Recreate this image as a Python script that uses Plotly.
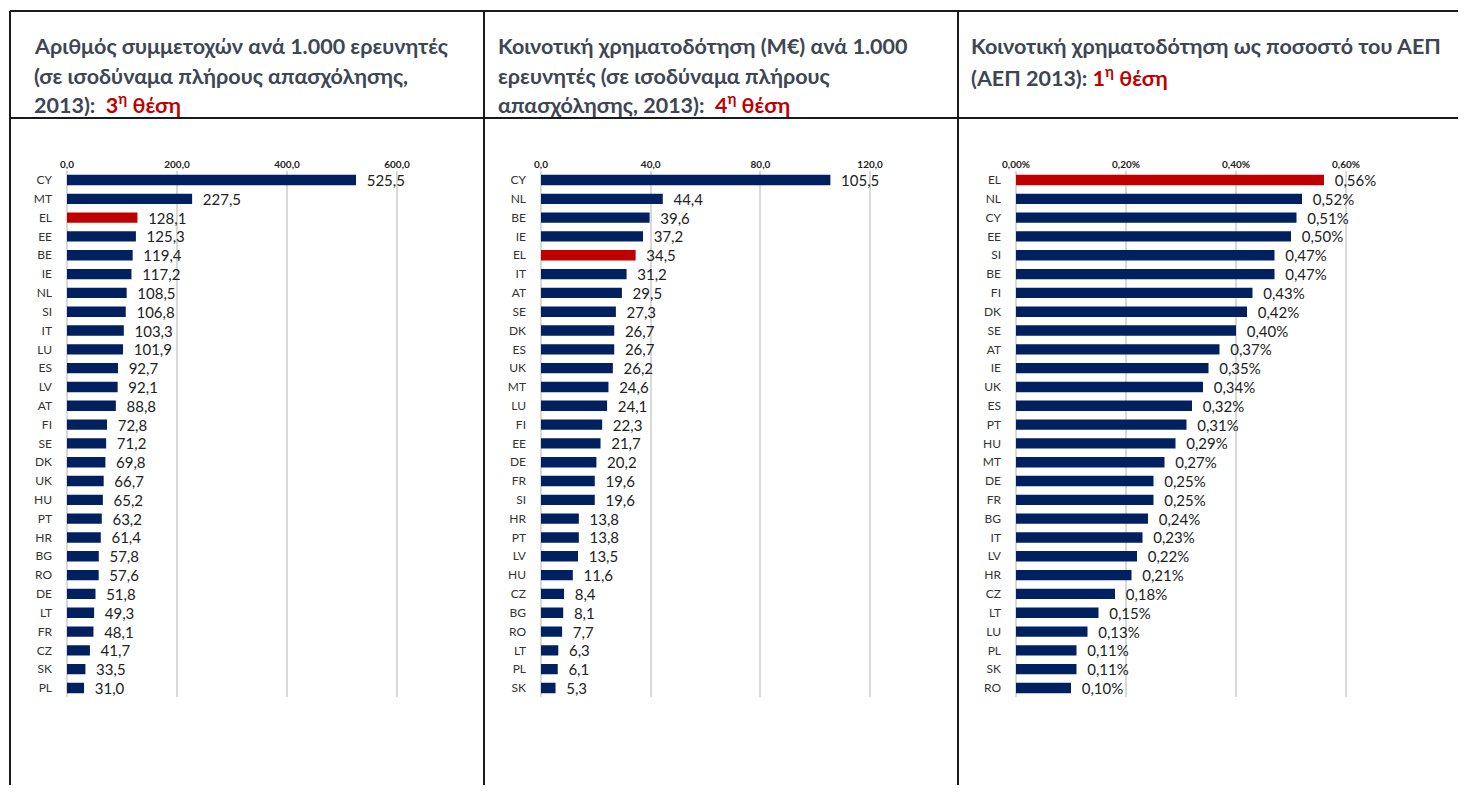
import plotly.graph_objects as go

# page: 1466x793 window, body has 8px margin -> figure of 1450x777 fits exactly
PAGE_W, PAGE_H = 1466, 793
OFF = 8
W, H = PAGE_W - 2 * OFF, PAGE_H - 2 * OFF

# ---------------- data ----------------
c1_countries = ["CY", "MT", "EL", "EE", "BE", "IE", "NL", "SI", "IT", "LU", "ES", "LV", "AT", "FI",
                "SE", "DK", "UK", "HU", "PT", "HR", "BG", "RO", "DE", "LT", "FR", "CZ", "SK", "PL"]
c1_values = [525.5, 227.5, 128.1, 125.3, 119.4, 117.2, 108.5, 106.8, 103.3, 101.9, 92.7, 92.1, 88.8, 72.8,
             71.2, 69.8, 66.7, 65.2, 63.2, 61.4, 57.8, 57.6, 51.8, 49.3, 48.1, 41.7, 33.5, 31.0]
c1_ticks = [0, 200, 400, 600]
c1_ticktext = ["0,0", "200,0", "400,0", "600,0"]

c2_countries = ["CY", "NL", "BE", "IE", "EL", "IT", "AT", "SE", "DK", "ES", "UK", "MT", "LU", "FI",
                "EE", "DE", "FR", "SI", "HR", "PT", "LV", "HU", "CZ", "BG", "RO", "LT", "PL", "SK"]
c2_values = [105.5, 44.4, 39.6, 37.2, 34.5, 31.2, 29.5, 27.3, 26.7, 26.7, 26.2, 24.6, 24.1, 22.3,
             21.7, 20.2, 19.6, 19.6, 13.8, 13.8, 13.5, 11.6, 8.4, 8.1, 7.7, 6.3, 6.1, 5.3]
c2_ticks = [0, 40, 80, 120]
c2_ticktext = ["0,0", "40,0", "80,0", "120,0"]

c3_countries = ["EL", "NL", "CY", "EE", "SI", "BE", "FI", "DK", "SE", "AT", "IE", "UK", "ES", "PT",
                "HU", "MT", "DE", "FR", "BG", "IT", "LV", "HR", "CZ", "LT", "LU", "PL", "SK", "RO"]
c3_values = [0.56, 0.52, 0.51, 0.50, 0.47, 0.47, 0.43, 0.42, 0.40, 0.37, 0.35, 0.34, 0.32, 0.31,
             0.29, 0.27, 0.25, 0.25, 0.24, 0.23, 0.22, 0.21, 0.18, 0.15, 0.13, 0.11, 0.11, 0.10]
c3_ticks = [0, 0.2, 0.4, 0.6]
c3_ticktext = ["0,00%", "0,20%", "0,40%", "0,60%"]

highlight = "EL"

titles = [
    ["Αριθμός συμμετοχών ανά 1.000 ερευνητές",
     "(σε ισοδύναμα πλήρους απασχόλησης,",
     "2013):  <span style='color:#c00000'>3<sup>η</sup> θέση</span>"],
    ["Κοινοτική χρηματοδότηση (Μ€) ανά 1.000",
     "ερευνητές (σε ισοδύναμα πλήρους",
     "απασχόλησης, 2013):  <span style='color:#c00000'>4<sup>η</sup> θέση</span>"],
    ["Κοινοτική χρηματοδότηση ως ποσοστό του ΑΕΠ",
     "(ΑΕΠ 2013): <span style='color:#c00000'>1<sup>η</sup> θέση</span>"],
]

# ---------------- styling ----------------
NAVY = "#002060"
RED = "#c00000"
FONT = "Lato"
TITLE_COLOR = "#3d4652"


def px_x(p):
    return (p - OFF) / W


def px_y(p):
    return 1 - (p - OFF) / H


fig = go.Figure()

panels = [
    (c1_countries, c1_values, c1_ticks, c1_ticktext, [0, 700], (67, 452),
     lambda v: f"{v:.1f}".replace(".", ",")),
    (c2_countries, c2_values, c2_ticks, c2_ticktext, [0, 140], (541, 925),
     lambda v: f"{v:.1f}".replace(".", ",")),
    (c3_countries, c3_values, c3_ticks, c3_ticktext, [0, 0.7], (1016, 1401),
     lambda v: f"{v:.2f}%".replace(".", ",")),
]

ydom = [px_y(697.4), px_y(170.6)]

for i, (cats, vals, tv, tt, rng, (x0, x1), fmt) in enumerate(panels):
    n = i + 1
    xa = "x" if n == 1 else f"x{n}"
    ya = "y" if n == 1 else f"y{n}"
    colors = [RED if c == highlight else NAVY for c in cats]
    fig.add_trace(go.Bar(
        x=vals, y=cats, orientation="h",
        marker=dict(color=colors, line=dict(width=0)),
        text=["\u00a0\u00a0" + fmt(v) for v in vals],
        textposition="outside",
        constraintext="none",
        textfont=dict(family=FONT, size=15, color="#222222"),
        cliponaxis=False,
        xaxis=xa, yaxis=ya,
        hoverinfo="skip",
        showlegend=False,
    ))
    xkey = "xaxis" if n == 1 else f"xaxis{n}"
    ykey = "yaxis" if n == 1 else f"yaxis{n}"
    fig.update_layout(**{
        xkey: dict(
            domain=[px_x(x0), px_x(x1)], range=rng, side="top",
            anchor=ya, tickvals=tv, ticktext=tt, automargin=False,
            showgrid=True, gridcolor="#d9d9d9", gridwidth=1.5,
            zeroline=True, zerolinecolor="#d9d9d9", zerolinewidth=1.5,
            showline=False, ticks="", fixedrange=True,
            tickfont=dict(family=FONT, size=10, color="#222222", weight="bold"),
        ),
        ykey: dict(
            domain=ydom, type="category", autorange="reversed",
            anchor=xa, ticks="", showgrid=False, showline=False, automargin=False,
            ticklabelstandoff=14, fixedrange=True,
            tickfont=dict(family=FONT, size=12, color="#333333"),
        ),
    })

# ---------------- titles ----------------
title_x = [32, 496, 969]
line_y = [46, 76, 104]
annotations = []
for tx, lines in zip(title_x, titles):
    for j, line in enumerate(lines):
        annotations.append(dict(
            x=px_x(tx), y=px_y(line_y[j]), xref="paper", yref="paper",
            xanchor="left", yanchor="middle", showarrow=False, align="left",
            text=line,
            font=dict(family=FONT, size=21.5, color=TITLE_COLOR, weight="bold"),
        ))

# ---------------- table borders ----------------
shapes = []
line_style = dict(color="#1a1a1a", width=2)
for yy in [11, 118]:
    shapes.append(dict(type="line", xref="paper", yref="paper",
                       x0=px_x(10), x1=1, y0=px_y(yy), y1=px_y(yy), line=line_style))
for xx in [10, 484, 958]:
    shapes.append(dict(type="line", xref="paper", yref="paper",
                       x0=px_x(xx), x1=px_x(xx), y0=px_y(11), y1=0, line=line_style))

fig.update_layout(
    width=W, height=H,
    margin=dict(l=0, r=0, t=0, b=0, autoexpand=False),
    paper_bgcolor="white", plot_bgcolor="white",
    bargap=0.45,
    annotations=annotations,
    shapes=shapes,
    font=dict(family=FONT),
)

fig.write_html("out.html", config={"displayModeBar": False})
